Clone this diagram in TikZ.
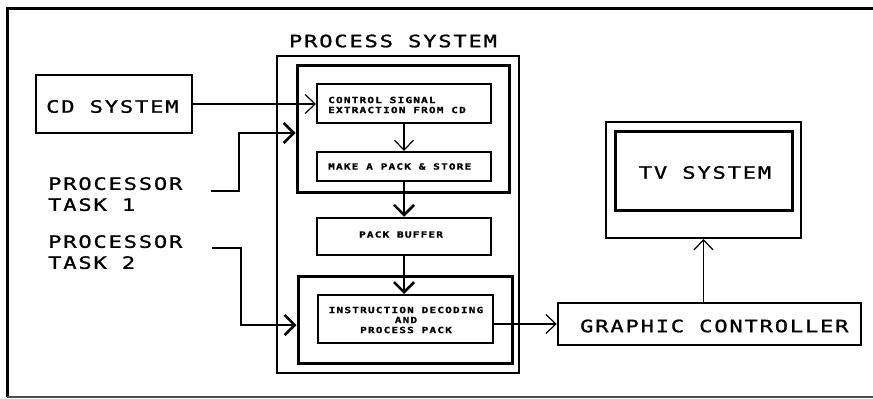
\documentclass[tikz,border=0pt]{standalone}
\usepackage{fontspec}
\usetikzlibrary{arrows.meta,calc}
\newfontfamily\plotfont[LetterSpace=10.6,FakeStretch=1.3,FakeBold=1.2]{DejaVu Sans Mono}
\newfontfamily\plotsmall[LetterSpace=14,FakeStretch=1.3,FakeBold=1.5]{DejaVu Sans Mono Bold}
\newcommand{\bigtxt}{\plotfont\fontsize{17}{21}\selectfont}
\newcommand{\smalltxt}{\plotsmall\fontsize{8.5}{10}\selectfont}
\tikzset{
  bx/.style={draw, inner sep=0pt, line width=#1},
  bx/.default=2pt,
  lbl/.style={inner sep=0pt},
  conn/.style={line width=1.2pt, -{Straight Barb[length=10pt,width=19pt]}},
  thickconn/.style={line width=2.6pt, -{Straight Barb[length=10pt,width=20pt]}},
}
\begin{document}
\begin{tikzpicture}[x=1pt,y=-1pt]
\useasboundingbox (0,0) rectangle (873,399);
% outer frame
\draw[line width=3pt] (873,8) -- (7,8) -- (7,397);
\draw[line width=1.2pt, black!70] (7,397) -- (873,397);

% boxes
\node[bx=2.5pt, minimum width=156pt, minimum height=58pt] (cd) at (114,104) {};
\node[lbl, anchor=west, font=\bigtxt] (cdt) at (46,106.5) {CD SYSTEM};

\node[lbl, font=\bigtxt] (pst) at (393,41) {PROCESS SYSTEM};
\node[bx=2.5pt, minimum width=242pt, minimum height=317pt] (ps) at (398,214.5) {};
\node[bx=3pt, minimum width=212pt, minimum height=127pt] (upin) at (403,128.5) {};
\node[bx=2pt, minimum width=174pt, minimum height=39pt] (ctrl) at (404,103.5) {};
\node[lbl, anchor=west, align=left, font=\smalltxt] (ctrlt) at (328,105) {CONTROL SIGNAL\\EXTRACTION FROM CD};
\node[bx=2pt, minimum width=174pt, minimum height=29pt] (pack) at (404,166.5) {};
\node[lbl, anchor=west, font=\smalltxt] (packt) at (328,166.5) {MAKE A PACK \& STORE};
\node[bx=2.5pt, minimum width=174pt, minimum height=37pt] (buf) at (404,236.5) {};
\node[lbl, font=\smalltxt] (buft) at (401,234.5) {PACK BUFFER};
\node[bx=3pt, minimum width=214pt, minimum height=87pt] (lowin) at (405,319.5) {};
\node[bx=2pt, minimum width=175pt, minimum height=48pt] (instr) at (405.5,319) {};
\node[lbl, align=center, font=\smalltxt] (instrt) at (406,320) {INSTRUCTION DECODING\\AND\\PROCESS PACK};

\node[bx=2.5pt, minimum width=303pt, minimum height=42pt] (gc) at (709.5,324) {};
\node[lbl, anchor=west, font=\bigtxt] (gct) at (580,326) {GRAPHIC CONTROLLER};

\node[bx=2pt, minimum width=195pt, minimum height=116pt] (tvo) at (703.5,180) {};
\node[bx=3pt, minimum width=177pt, minimum height=79pt] (tvi) at (703.5,170.5) {};
\node[lbl, font=\bigtxt] (tvt) at (705,172.5) {TV SYSTEM};

\node[lbl, anchor=north west, align=left, font=\bigtxt] (t1) at (48,177) {PROCESSOR\\TASK 1};
\node[lbl, anchor=north west, align=left, font=\bigtxt] (t2) at (48,235) {PROCESSOR\\TASK 2};

% connectors
\draw[conn] (cd.east) -- (cd.east -| ctrl.west);
\draw[conn] (ctrl.south) -- (pack.north);
\draw[thickconn] (pack.south) -- (buf.north);
\draw[thickconn] (buf.south) -- (instr.north -| buf.south);
\draw[conn] (gc.west -| instr.east) -- (gc.west);
\draw[conn] (tvo.south |- gc.north) -- (tvo.south);

\coordinate (t1o) at (211,191);
\coordinate (k1) at (239,133);
\draw[thickconn] (t1o) -| (k1) -- (k1 -| upin.west);
\coordinate (t2o) at (212,248);
\coordinate (k2) at (241,325);
\draw[thickconn] (t2o) -| (k2) -- (k2 -| lowin.west);
\end{tikzpicture}
\end{document}
